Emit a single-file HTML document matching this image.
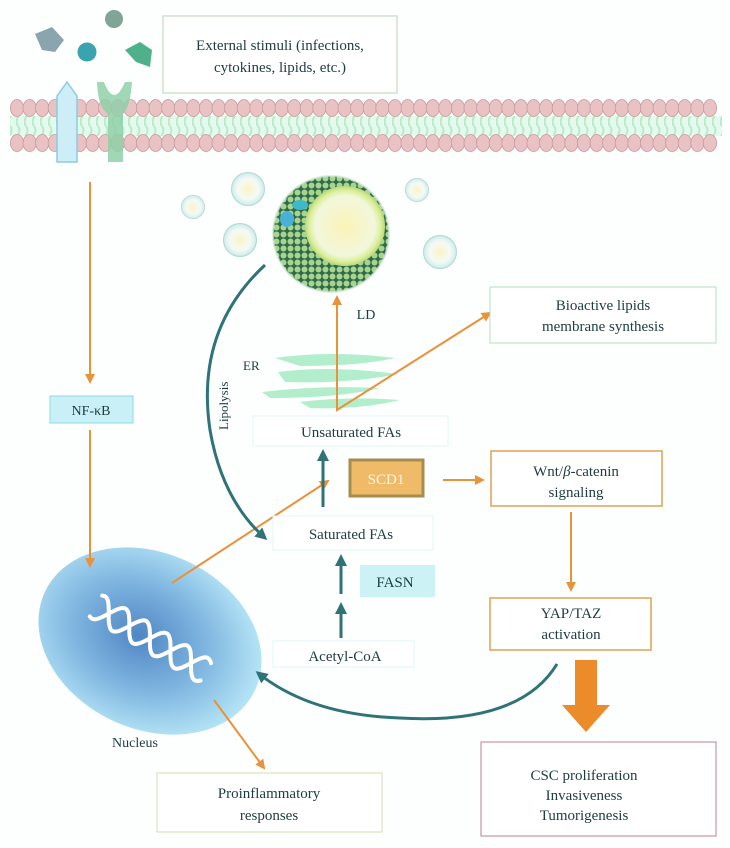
<!DOCTYPE html>
<html><head><meta charset="utf-8"><style>
html,body{margin:0;padding:0;background:#fdfefe}
svg{display:block}
text{font-family:"Liberation Serif",serif;fill:#1d3d3f}
</style></head><body>
<svg id="d" width="730" height="848" viewBox="0 0 730 848">
<defs>
<radialGradient id="nuc" cx="0.45" cy="0.5" r="0.55"><stop offset="0" stop-color="#4f86c4"/><stop offset="0.55" stop-color="#80b6e0"/><stop offset="1" stop-color="#b4e4f6"/></radialGradient>
<radialGradient id="bub" cx="0.5" cy="0.5" r="0.5"><stop offset="0" stop-color="#fbf3c8"/><stop offset="0.6" stop-color="#f4faf5"/><stop offset="0.9" stop-color="#d6efec"/><stop offset="1" stop-color="#9fcfcb"/></radialGradient>
<radialGradient id="core" cx="0.5" cy="0.5" r="0.5"><stop offset="0" stop-color="#fbf3b8"/><stop offset="0.75" stop-color="#f2f7dc"/><stop offset="0.9" stop-color="#dbee9a"/><stop offset="1" stop-color="#b8d87a"/></radialGradient>
<pattern id="dots" width="7" height="7" patternUnits="userSpaceOnUse"><rect width="7" height="7" fill="#2f6a4a"/><circle cx="3.5" cy="3.5" r="3" fill="#a9d48e"/></pattern>
<pattern id="tails" width="8" height="18" patternUnits="userSpaceOnUse"><rect width="8" height="18" fill="#e6f9ee"/><path d="M2,0 Q5,4 2,9 Q-1,14 2,18" stroke="#b6ecc8" stroke-width="2" fill="none"/></pattern>
<marker id="ao" markerWidth="10" markerHeight="10" refX="8" refY="5" orient="auto" markerUnits="userSpaceOnUse"><path d="M0,0 L10,5 L0,10 Z" fill="#e8923a"/></marker>
<marker id="at" markerWidth="12" markerHeight="12" refX="9" refY="6" orient="auto" markerUnits="userSpaceOnUse"><path d="M0,0 L12,6 L0,12 Z" fill="#2f7378"/></marker>
</defs>

<g id="mem">
<rect x="10" y="116" width="712" height="20" fill="url(#tails)"/>
</g>

<g>
<path d="M57,96 L67,82 L77,96 L77,162 L57,162 Z" fill="#cdeef7" stroke="#8ccbe0" stroke-width="1.5"/>
<path d="M97,82 L104,82 Q114,108 125,82 L132,82 Q130,108 123,114 L123,162 L108,162 L108,114 Q98,108 97,82 Z" fill="#8fd0a8" opacity="0.85"/>
</g>
<g>
<path d="M35,34 L52,27 L64,40 L55,52 L42,50 Z" fill="#8aa5ae"/>
<circle cx="87" cy="52" r="9.5" fill="#3aa3b0"/>
<circle cx="114" cy="19" r="9" fill="#7fa596"/>
<path d="M125,50 L140,42 L152,50 L150,67 L136,62 Z" fill="#4fb08c"/>
</g>

<rect x="163" y="16" width="234" height="77" fill="#fff" stroke="#b8d4b0"/>
<text x="280" y="50" font-size="15" text-anchor="middle">External stimuli (infections,</text>
<text x="280" y="72" font-size="15" text-anchor="middle">cytokines, lipids, etc.)</text>

<line x1="90" y1="182" x2="90" y2="382" stroke="#e8923a" stroke-width="2" marker-end="url(#ao)"/>
<rect x="50" y="396" width="83" height="27" fill="#c8f0f6" stroke="#8edbe8"/>
<text x="91" y="415" font-size="14" text-anchor="middle">NF-κB</text>

<ellipse cx="150" cy="641" rx="116" ry="88" transform="rotate(25 150 641)" fill="url(#nuc)"/>
<line x1="90" y1="430" x2="90" y2="566" stroke="#e8923a" stroke-width="2" marker-end="url(#ao)"/>
<g id="dna" stroke="#fff" stroke-width="4" fill="none" stroke-linecap="round"></g>
<text x="135" y="747" font-size="14" text-anchor="middle">Nucleus</text>

<line x1="214" y1="700" x2="264" y2="768" stroke="#e8923a" stroke-width="2" marker-end="url(#ao)"/>
<rect x="157" y="773" width="225" height="59" fill="#fff" stroke="#d6dcb0"/>
<text x="269" y="798" font-size="15" text-anchor="middle">Proinflammatory</text>
<text x="269" y="820" font-size="15" text-anchor="middle">responses</text>

<line x1="172" y1="583" x2="328" y2="481" stroke="#e8923a" stroke-width="2" marker-end="url(#ao)"/>

<g>
<circle cx="193" cy="207" r="12" fill="url(#bub)"/>
<circle cx="248" cy="189" r="17" fill="url(#bub)"/>
<circle cx="240" cy="240" r="17" fill="url(#bub)"/>
<circle cx="417" cy="190" r="12" fill="url(#bub)"/>
<circle cx="440" cy="252" r="17" fill="url(#bub)"/>
</g>
<g>
<circle cx="331" cy="234" r="58" fill="url(#dots)"/>
<circle cx="331" cy="234" r="58" fill="none" stroke="#cfe8d8" stroke-width="2" opacity="0.7"/>
<circle cx="345" cy="226" r="40" fill="url(#core)"/>
<ellipse cx="300" cy="205" rx="8" ry="5" fill="#3fb8c8"/>
<ellipse cx="287" cy="219" rx="7" ry="8" fill="#4ab0d8"/>
</g>
<text x="366" y="319" font-size="14" text-anchor="middle">LD</text>

<path d="M265,265 Q195,330 210,430 Q222,500 265,538" stroke="#2f7378" stroke-width="3" fill="none" marker-end="url(#at)"/>
<text x="0" y="0" font-size="13" transform="translate(228,430) rotate(-90)">Lipolysis</text>

<g fill="#a6ecc4" opacity="0.85">
<path d="M275,358 Q330,350 395,358 Q360,366 300,366 Z"/>
<path d="M278,372 Q330,365 398,374 Q350,384 285,382 Z"/>
<path d="M262,392 Q320,385 380,388 Q340,398 270,398 Z"/>
<path d="M300,402 Q350,396 400,400 Q360,410 310,408 Z"/>
</g>
<text x="243" y="370" font-size="13">ER</text>

<line x1="337" y1="408" x2="337" y2="297" stroke="#e8923a" stroke-width="2" marker-end="url(#ao)"/>
<polyline points="337,408 337,410 490,313" stroke="#e8923a" stroke-width="2" fill="none" marker-end="url(#ao)"/>
<rect x="490" y="287" width="226" height="56" fill="#fff" stroke="#b8dcc0"/>
<text x="603" y="310" font-size="15" text-anchor="middle">Bioactive lipids</text>
<text x="603" y="331" font-size="15" text-anchor="middle">membrane synthesis</text>

<rect x="253" y="416" width="195" height="30" fill="#fff" stroke="#e4f6f8"/>
<text x="351" y="437" font-size="15" text-anchor="middle">Unsaturated FAs</text>

<line x1="323" y1="507" x2="323" y2="452" stroke="#2f7378" stroke-width="3" marker-end="url(#at)"/>
<rect x="350" y="460" width="73" height="36" fill="#f0bb68" stroke="#a68c50" stroke-width="3"/>
<text x="386" y="484" font-size="15" text-anchor="middle" style="fill:#fff6e0">SCD1</text>
<line x1="443" y1="480" x2="483" y2="480" stroke="#e8923a" stroke-width="2" marker-end="url(#ao)"/>
<rect x="491" y="451" width="171" height="55" fill="#fff" stroke="#e0a050" stroke-width="1.5"/>
<text x="576" y="476" font-size="15" text-anchor="middle">Wnt/<tspan font-style="italic">β</tspan>-catenin</text>
<text x="576" y="497" font-size="15" text-anchor="middle">signaling</text>
<line x1="571" y1="512" x2="571" y2="590" stroke="#e8923a" stroke-width="2" marker-end="url(#ao)"/>

<rect x="273" y="516" width="160" height="34" fill="#fff" stroke="#e4f6f8"/>
<text x="351" y="539" font-size="15" text-anchor="middle">Saturated FAs</text>
<line x1="341" y1="594" x2="341" y2="557" stroke="#2f7378" stroke-width="3" marker-end="url(#at)"/>
<rect x="360" y="565" width="75" height="32" fill="#cdf2f6"/>
<text x="395" y="587" font-size="15" text-anchor="middle">FASN</text>
<line x1="341" y1="638" x2="341" y2="605" stroke="#2f7378" stroke-width="3" marker-end="url(#at)"/>
<rect x="273" y="641" width="141" height="26" fill="#fff" stroke="#e4f6f8"/>
<text x="345" y="661" font-size="15" text-anchor="middle">Acetyl-CoA</text>

<rect x="490" y="598" width="161" height="52" fill="#fff" stroke="#e0a050" stroke-width="1.5"/>
<text x="571" y="618" font-size="15" text-anchor="middle">YAP/TAZ</text>
<text x="571" y="639" font-size="15" text-anchor="middle">activation</text>

<path d="M557,664 Q520,725 400,718 Q310,715 258,673" stroke="#2f7378" stroke-width="3" fill="none" marker-end="url(#at)"/>
<path d="M575,660 L597,660 L597,705 L610,705 L586,732 L562,705 L575,705 Z" fill="#ec8b2a"/>

<rect x="481" y="742" width="235" height="94" fill="#fff" stroke="#c08090"/>
<text x="584" y="780" font-size="15" text-anchor="middle">CSC proliferation</text>
<text x="584" y="800" font-size="15" text-anchor="middle">Invasiveness</text>
<text x="584" y="820" font-size="15" text-anchor="middle">Tumorigenesis</text>
</svg>
<script>
var ns='http://www.w3.org/2000/svg';
var mem=document.getElementById('mem');
for(var x=17;x<720;x+=12.6){
 [108,143].forEach(function(y){
  var c=document.createElementNS(ns,'ellipse');
  c.setAttribute('cx',x);c.setAttribute('cy',y);c.setAttribute('rx',6.6);c.setAttribute('ry',8.5);
  c.setAttribute('fill','#e9c2c4');c.setAttribute('stroke','#c99a9e');c.setAttribute('stroke-width','0.8');
  
  
  mem.appendChild(c);
 });
}
// DNA helix: two sinusoidal strands along a diagonal axis
var dna=document.getElementById('dna');
var x0=96,y0=606,x1=206,y1=672;
var L=Math.hypot(x1-x0,y1-y0),ux=(x1-x0)/L,uy=(y1-y0)/L,nx=-uy,ny=ux;
[0,Math.PI].forEach(function(ph){
 var d='';
 for(var t=0;t<=L;t+=2){
  var a=13*Math.sin(2*Math.PI*t/48+ph+1.2);
  var px=x0+ux*t+nx*a, py=y0+uy*t+ny*a;
  d+=(t===0?'M':'L')+px.toFixed(1)+','+py.toFixed(1);
 }
 var p=document.createElementNS(ns,'path');
 p.setAttribute('d',d);
 
 
 dna.appendChild(p);
});
</script>
</body></html>
